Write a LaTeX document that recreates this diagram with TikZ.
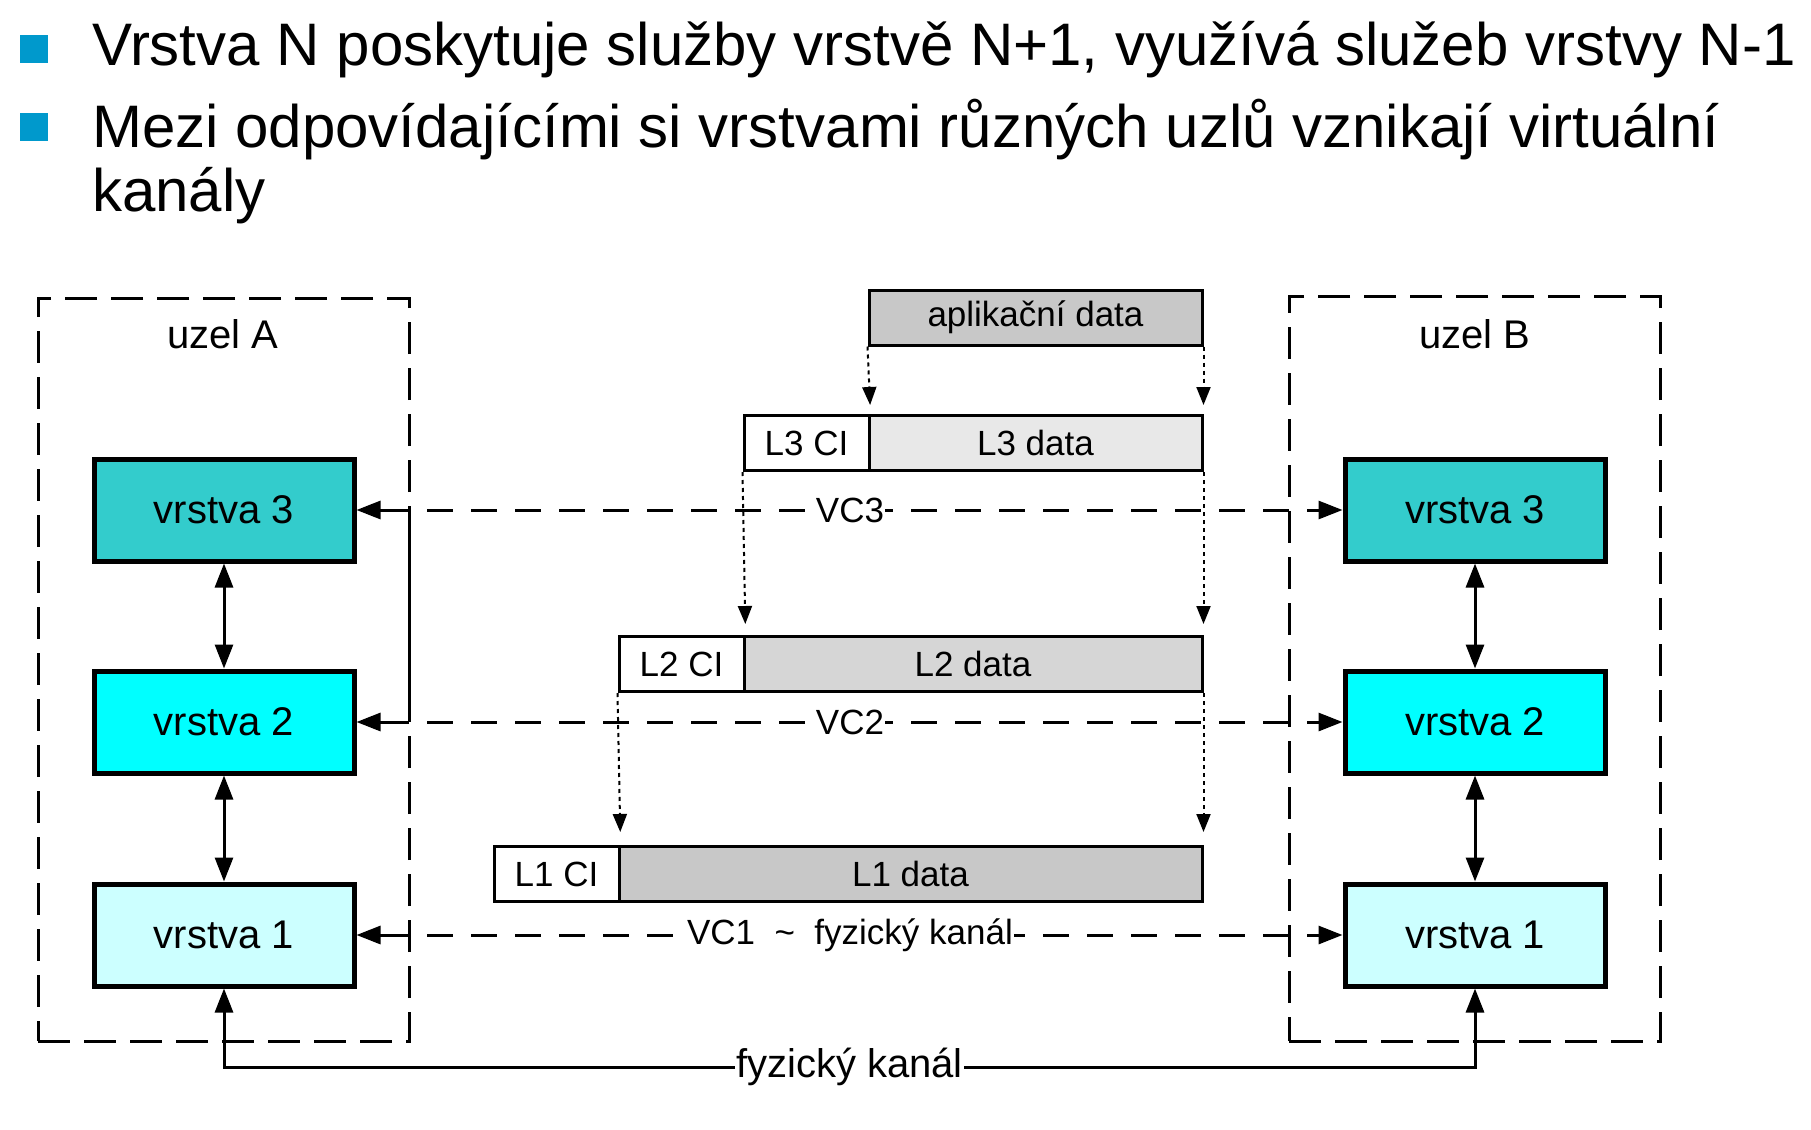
\documentclass[tikz,border=0pt]{standalone}
\usepackage{fontspec}
\setmainfont{Liberation Sans}
\usetikzlibrary{arrows.meta}
\definecolor{bulletblue}{HTML}{0099CC}
\definecolor{lthree}{HTML}{33CCCC}
\definecolor{ltwo}{HTML}{00FFFF}
\definecolor{lone}{HTML}{CCFFFF}
\definecolor{appgray}{HTML}{C8C8C8}
\definecolor{lthreegray}{HTML}{E8E8E8}
\definecolor{ltwogray}{HTML}{D6D6D6}
\definecolor{lonegray}{HTML}{C8C8C8}
\tikzset{
  bulletsq/.style={fill=bulletblue, minimum width=28pt, minimum height=28pt, inner sep=0pt},
  headtext/.style={anchor=base west, inner sep=0pt, font=\fontsize{60}{65}\selectfont},
  layerbox/.style={draw, line width=5pt, minimum width=260pt, minimum height=102pt, inner sep=0pt, font=\fontsize{40}{48}\selectfont},
  nodebox/.style={draw, line width=3pt, dash pattern=on 32pt off 14pt, inner sep=0pt},
  nodelabel/.style={inner sep=0pt, font=\fontsize{40}{48}\selectfont},
  pkt/.style={draw, line width=3pt, minimum height=55pt, inner sep=0pt, font=\fontsize{35}{42}\selectfont},
  conn/.style={line width=3pt, -{Triangle[length=24pt,width=18pt]}},
  dconn/.style={line width=3pt, {Triangle[length=24pt,width=18pt]}-{Triangle[length=24pt,width=18pt]}},
  vc/.style={line width=3pt, dash pattern=on 26pt off 18pt, -{Triangle[length=24pt,width=18pt]}},
  vclabel/.style={fill=white, inner sep=1pt, font=\fontsize{35}{42}\selectfont},
  dotarr/.style={line width=2pt, dash pattern=on 4pt off 4pt, -{Triangle[length=18pt,width=14pt]}},
}
\begin{document}
\begin{tikzpicture}[x=1pt,y=-1pt]
\useasboundingbox (0,0) rectangle (1811,1129);
% header
\node[bulletsq] (b1) at (34,49) {};
\node[headtext] (h1) at (92,66) {Vrstva N poskytuje služby vrstvě N+1, využívá služeb vrstvy N-1};
\node[bulletsq] (b2) at (34,127) {};
\node[headtext] (h2) at (92,147) {Mezi odpovídajícími si vrstvami různých uzlů vznikají virtuální};
\node[headtext] (h3) at (92,211) {kanály};
% node frames
\node[nodebox, minimum width=371pt, minimum height=743pt] (uA) at (223.5,669.5) {};
\node[nodebox, minimum width=371pt, minimum height=745pt] (uB) at (1474.5,668.5) {};
\node[nodelabel] (lA) at (223,334) {uzel A};
\node[nodelabel] (lB) at (1475,334) {uzel B};
% layers
\node[layerbox, fill=lthree] (A3) at (224,510) {vrstva 3};
\node[layerbox, fill=ltwo] (A2) at (224,722) {vrstva 2};
\node[layerbox, fill=lone] (A1) at (224,935) {vrstva 1};
\node[layerbox, fill=lthree] (B3) at (1475,510) {vrstva 3};
\node[layerbox, fill=ltwo] (B2) at (1475,722) {vrstva 2};
\node[layerbox, fill=lone] (B1) at (1475,935) {vrstva 1};
\draw[dconn] (A3.south) -- (A2.north);
\draw[dconn] (A2.south) -- (A1.north);
\draw[dconn] (B3.south) -- (B2.north);
\draw[dconn] (B2.south) -- (B1.north);
% packets
\node[pkt, fill=appgray, minimum width=333pt] (app) at (1035.5,317.5) {aplikační data};
\node[pkt, fill=white, minimum width=125pt] (l3ci) at (806.5,443) {L3 CI};
\node[pkt, fill=lthreegray, minimum width=333pt] (l3d) at (1035.5,443) {L3 data};
\node[pkt, fill=white, minimum width=125pt] (l2ci) at (681.5,664) {L2 CI};
\node[pkt, fill=ltwogray, minimum width=458pt] (l2d) at (973,664) {L2 data};
\node[pkt, fill=white, minimum width=125pt] (l1ci) at (556.5,874) {L1 CI};
\node[pkt, fill=lonegray, minimum width=583pt] (l1d) at (910.5,874) {L1 data};
\draw[dotarr, shorten >=9pt] (app.south west) -- (l3ci.north east);
\draw[dotarr, shorten >=9pt] (app.south east) -- (l3d.north east);
\draw[dotarr, shorten >=11pt] (l3ci.south west) -- (l2ci.north east);
\draw[dotarr, shorten >=11pt] (l3d.south east) -- (l2d.north east);
\draw[dotarr, shorten >=13pt] (l2ci.south west) -- (l1ci.north east);
\draw[dotarr, shorten >=13pt] (l2d.south east) -- (l1d.north east);
% virtual channels
\coordinate (jA3) at (409,510);
\coordinate (jA2) at (409,722);
\coordinate (jA1) at (409,935);
\coordinate (s3) at (427,510);
\coordinate (s2) at (427,722);
\coordinate (s1) at (427,935);
\draw[line width=3pt] (jA3) -- (jA2);
\draw[conn] (jA3) -- (A3.east);
\draw[conn] (jA2) -- (A2.east);
\draw[conn] (jA1) -- (A1.east);
\draw[vc] (s3) -- node[vclabel, pos=0.462] (vc3) {VC3} (B3.west);
\draw[vc] (s2) -- node[vclabel, pos=0.462] (vc2) {VC2} (B2.west);
\draw[vc] (s1) -- node[vclabel, pos=0.462] (vc1) {VC1\ \ \textasciitilde\ \ fyzický kanál} (B1.west);
% physical channel
\coordinate (pA) at (224,1067);
\coordinate (pB) at (1475,1067);
\draw[dconn] (A1.south) -- (pA) -- node[fill=white, inner sep=1pt, font=\fontsize{40}{48}\selectfont] (fk) {fyzický kanál} (pB) -- (B1.south);
\end{tikzpicture}
\end{document}
